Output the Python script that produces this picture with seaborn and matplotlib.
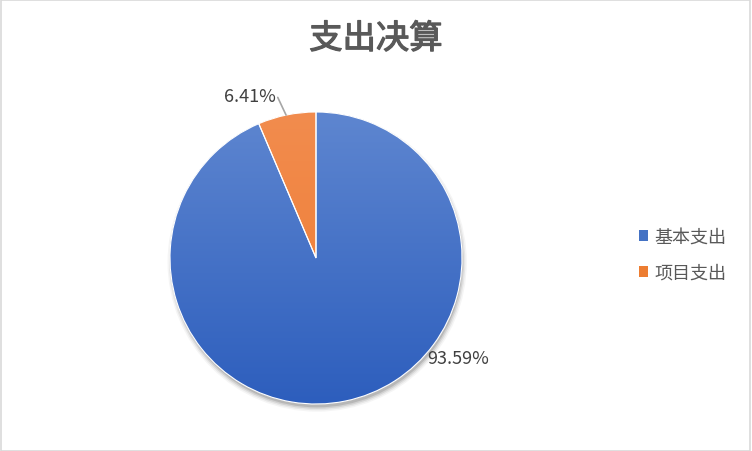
import numpy as np
import matplotlib
matplotlib.use("Agg")
import matplotlib.pyplot as plt
import matplotlib.patheffects as pe
import seaborn as sns
from matplotlib.patches import Patch, Circle
from matplotlib.colors import LinearSegmentedColormap

sns.set_theme(style="white")
plt.rcParams["font.family"] = ["Noto Sans CJK SC", "DejaVu Sans"]

title = "支出决算"
categories = ["基本支出", "项目支出"]
shares = [93.59, 6.41]
pct_labels = ["93.59%", "6.41%"]

colors = ["#4472C4", "#ED7D31"]
grad_top = ["#5E86D0", "#F28C4E"]
grad_bottom = ["#2D5EBD", "#EE7A30"]

fig = plt.figure(figsize=(7.52, 4.52), dpi=100)
fig.patch.set_facecolor("white")
# thin grey frame like the Excel chart area
fig.add_artist(plt.Rectangle((0.001, 0.001), 0.997, 0.996, transform=fig.transFigure,
                             fill=False, edgecolor="#D9D9D9", linewidth=1.2))

ax = fig.add_axes([170 / 752, 47 / 452, 292 / 752, 292 / 452])
ax.set_xlim(-1, 1)
ax.set_ylim(-1, 1)
ax.set_aspect("equal")
ax.axis("off")

# soft shadow under the pie, mostly below it
for r, a in [(1.025, 0.04), (1.015, 0.06), (1.005, 0.09), (0.995, 0.12)]:
    ax.add_patch(Circle((0.008, -0.028), r, color="black", alpha=a, zorder=0,
                        linewidth=0, clip_on=False))

wedges, _ = ax.pie(shares, colors=colors, startangle=90, counterclock=False,
                   radius=1.0, wedgeprops=dict(linewidth=0, zorder=1))

# vertical gradient inside each wedge
for w, top, bot in zip(wedges, grad_top, grad_bottom):
    cmap = LinearSegmentedColormap.from_list("g", [bot, top])
    grad = np.linspace(0, 1, 256).reshape(-1, 1)
    im = ax.imshow(grad, extent=(-1, 1, -1, 1), origin="lower", cmap=cmap,
                   aspect="auto", zorder=2)
    im.set_clip_path(w)

# white separators drawn on top
edges, _ = ax.pie(shares, startangle=90, counterclock=False, radius=1.0,
                  wedgeprops=dict(linewidth=0.8, edgecolor="white", zorder=3))
for e in edges:
    e.set_facecolor("none")
ax.set_xlim(-1, 1)
ax.set_ylim(-1, 1)

# data labels
ax.text(0.973, -0.685, pct_labels[0], ha="center", va="center", fontsize=13,
        color="#404040", zorder=5)
ax.text(-0.452, 1.11, pct_labels[1], ha="center", va="center", fontsize=13,
        color="#404040", zorder=5)
# leader line for the small slice
ax.plot([-0.262, -0.205], [1.10, 0.979], color="#A6A6A6", linewidth=1.2,
        clip_on=False, zorder=5)

fig.text(376 / 752, 1 - 40 / 452, title, ha="center", va="center", fontsize=24,
         color="#595959",
         path_effects=[pe.withStroke(linewidth=0.9, foreground="#595959")])

handles = [Patch(facecolor=c, edgecolor="none") for c in colors]
fig.legend(handles, categories, loc="center left", bbox_to_anchor=(639 / 752, 1 - 256 / 452),
           frameon=False, fontsize=13, labelcolor="#595959", handlelength=0.5,
           handleheight=0.5, handletextpad=0.35, labelspacing=1.0,
           borderpad=0, borderaxespad=0)

fig.savefig("out.png", dpi=100)
